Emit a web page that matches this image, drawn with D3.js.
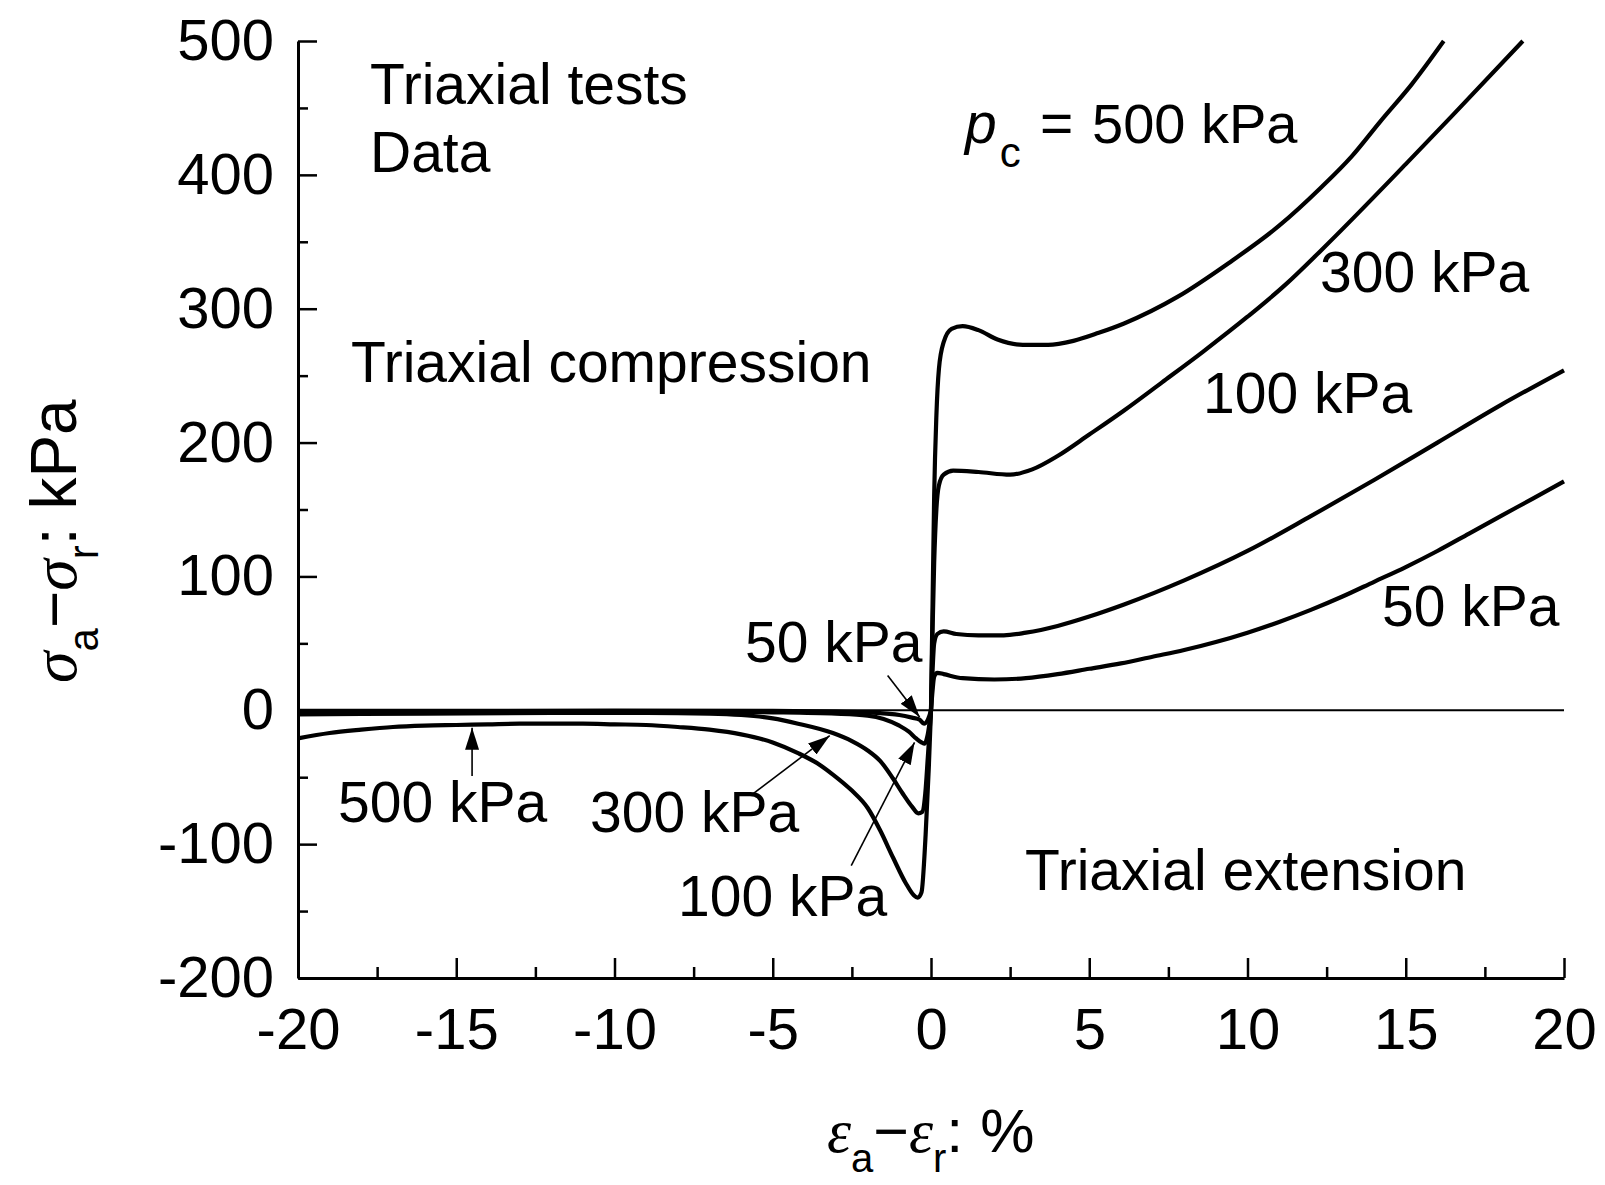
<!DOCTYPE html>
<html>
<head>
<meta charset="utf-8">
<script src="https://cdn.jsdelivr.net/npm/d3@7"></script>
<style>
  html, body { margin: 0; padding: 0; background: #fff; }
  svg { display: block; }
  text { font-family: "Liberation Sans", Arial, sans-serif; fill: #000; }
</style>
</head>
<body>
<svg id="chart" width="1605" height="1185"></svg>
<script>
// Axis ticks
const xTicks = [-20, -15, -10, -5, 0, 5, 10, 15, 20];
const xMinorTicks = [-17.5, -12.5, -7.5, -2.5, 2.5, 7.5, 12.5, 17.5];
const yTicks = [-200, -100, 0, 100, 200, 300, 400, 500];
const yMinorTicks = [-150, -50, 50, 150, 250, 350, 450];

// Triaxial compression curves: [axial - radial strain %, deviator stress kPa]
const comp500 = [[0,0],[0.05,80],[0.1,160],[0.17,220],[0.25,255],[0.4,275],[0.65,285],[1.0,287],[1.5,284],[2.1,277],[2.9,273],[3.7,273],[4.5,276],[5.3,282],[6.1,289],[7.8,309],[9.4,334],[11.0,362],[12.3,390],[13.3,414],[14.2,440],[15.2,468],[16.2,500]];
const comp300 = [[0,0],[0.05,60],[0.1,110],[0.17,150],[0.25,168],[0.4,176],[0.7,179],[1.5,178],[2.5,176],[3.2,180],[4.0,190],[5.0,206],[6.1,224],[7.3,245],[8.6,268],[10.0,294],[11.2,318],[12.3,343],[15.0,408],[16.5,445],[18.7,500]];
const comp100 = [[0,0],[0.05,30],[0.1,50],[0.2,57],[0.4,59],[0.8,57],[1.5,56],[2.3,56],[3.0,58],[4.0,63],[5.0,70],[6.1,79],[8.0,97],[10.0,119],[12.0,145],[14.0,172],[16.0,200],[18.0,228],[20.0,254]];
const comp50 = [[0,0],[0.05,15],[0.1,25],[0.2,28],[0.4,27],[1.0,24],[2.0,23],[3.0,24],[4.0,27],[5.0,31],[6.0,35],[7.0,40],[8.0,45],[9.0,51],[10.0,58],[11.0,66],[12.0,75],[13.0,85],[14.0,96],[15.0,107],[16.0,119],[17.0,132],[18.0,145],[19.0,158],[20.0,171]];

// Triaxial extension curves
const ext500 = [[-20,-21],[-19,-17],[-18,-14.5],[-17,-12.5],[-16,-11.5],[-15,-11],[-14,-10.5],[-13,-10],[-12,-10],[-11,-10],[-10,-10.5],[-9,-11],[-8,-12.5],[-7,-14.5],[-6,-18],[-5,-24],[-4.2,-32],[-3.5,-41],[-3.1,-48],[-2.5,-60],[-2.0,-73],[-1.6,-90],[-1.2,-110],[-0.8,-129],[-0.55,-138],[-0.42,-140],[-0.3,-136],[-0.17,-93],[-0.07,-43],[0,0]];
const ext300 = [[-20,-3],[-16,-2.5],[-12,-2],[-9,-2],[-7,-2.5],[-6,-3.5],[-5,-6],[-4.2,-10],[-3.1,-17],[-2.5,-23],[-2.0,-30],[-1.6,-38],[-1.2,-51],[-0.9,-62],[-0.6,-72],[-0.4,-77],[-0.28,-76],[-0.18,-62],[-0.1,-35],[0,0]];
const ext100 = [[-20,-1.5],[-14,-1],[-8,-1],[-5,-1.5],[-3,-2.5],[-2,-4],[-1.5,-6.5],[-1.0,-11.5],[-0.7,-16],[-0.47,-21],[-0.3,-24],[-0.2,-25],[-0.12,-20],[-0.05,-10],[0,0]];
const ext50 = [[-20,-0.5],[-10,-0.3],[-5,-0.5],[-3,-1],[-2,-1.5],[-1.4,-2.5],[-1.0,-3.5],[-0.6,-5.5],[-0.36,-7],[-0.22,-10],[-0.12,-8],[-0.05,-4],[0,0]];

const curves = [comp500, comp300, comp100, comp50, ext500, ext300, ext100, ext50];

const svg = d3.select("#chart");
const x = d3.scaleLinear().domain([-20, 20]).range([298, 1564]);
const y = d3.scaleLinear().domain([-200, 500]).range([978, 41]);

// Zero reference line
svg.append("line")
  .attr("x1", x(-20)).attr("x2", x(20))
  .attr("y1", y(0)).attr("y2", y(0))
  .attr("stroke", "#000").attr("stroke-width", 2);

// Data curves
const line = d3.line().x(d => x(d[0])).y(d => y(d[1])).curve(d3.curveMonotoneX);
svg.append("g").selectAll("path").data(curves).join("path")
  .attr("d", line)
  .attr("fill", "none")
  .attr("stroke", "#000")
  .attr("stroke-width", 4.2)
  .attr("stroke-linejoin", "round");

// Axes with inward ticks
function styleAxis(g) {
  g.select(".domain").attr("stroke-width", 3);
  g.selectAll(".tick line").attr("stroke-width", 2.5);
}
const xAxis = svg.append("g").attr("transform", `translate(0,${y(-200)})`)
  .call(d3.axisBottom(x).tickValues(xTicks).tickSizeInner(-20).tickSizeOuter(0).tickPadding(19)
        .tickFormat(d => String(d)));
styleAxis(xAxis);
xAxis.selectAll(".tick text").attr("font-size", 58).attr("dy", "0.9em")
  .style("font-family", '"Liberation Sans", Arial, sans-serif');

svg.append("g").attr("transform", `translate(0,${y(-200)})`)
  .call(d3.axisBottom(x).tickValues(xMinorTicks).tickSizeInner(-11).tickSizeOuter(0).tickFormat(""))
  .call(g => { g.select(".domain").remove(); g.selectAll(".tick line").attr("stroke-width", 2.5); });

const yAxis = svg.append("g").attr("transform", `translate(${x(-20)},0)`)
  .call(d3.axisLeft(y).tickValues(yTicks).tickSizeInner(-19).tickSizeOuter(0).tickPadding(24)
        .tickFormat(d => String(d)));
styleAxis(yAxis);
yAxis.selectAll(".tick text").attr("font-size", 58)
  .style("font-family", '"Liberation Sans", Arial, sans-serif');

svg.append("g").attr("transform", `translate(${x(-20)},0)`)
  .call(d3.axisLeft(y).tickValues(yMinorTicks).tickSizeInner(-10).tickSizeOuter(0).tickFormat(""))
  .call(g => { g.select(".domain").remove(); g.selectAll(".tick line").attr("stroke-width", 2.5); });

// Arrowhead marker
svg.append("defs").append("marker")
  .attr("id", "head")
  .attr("markerUnits", "userSpaceOnUse")
  .attr("viewBox", "0 0 22 14")
  .attr("refX", 22).attr("refY", 7)
  .attr("markerWidth", 22).attr("markerHeight", 14)
  .attr("orient", "auto")
  .append("path").attr("d", "M0,0 L22,7 L0,14 Z").attr("fill", "#000");

// Pointer lines from pressure labels to extension curves
const pointers = [
  [[-14.5, -49], [-14.5, -13]],
  [[-5.66, -63], [-3.2, -19]],
  [[-2.52, -116], [-0.52, -24]],
  [[-1.37, 26], [-0.36, -5]]
];
svg.append("g").selectAll("line").data(pointers).join("line")
  .attr("x1", d => x(d[0][0])).attr("y1", d => y(d[0][1]))
  .attr("x2", d => x(d[1][0])).attr("y2", d => y(d[1][1]))
  .attr("stroke", "#000").attr("stroke-width", 1.6)
  .attr("marker-end", "url(#head)");

// Text annotations
const labels = [
  ["Triaxial tests", 370, 104],
  ["Data", 370, 172],
  ["Triaxial compression", 351, 382],
  ["300 kPa", 1320, 292],
  ["100 kPa", 1203, 413],
  ["50 kPa", 1382, 626],
  ["50 kPa", 745, 662],
  ["500 kPa", 338, 822],
  ["300 kPa", 590, 832],
  ["Triaxial extension", 1025, 890],
  ["100 kPa", 678, 916]
];
svg.append("g").selectAll("text").data(labels).join("text")
  .attr("x", d => d[1]).attr("y", d => d[2])
  .attr("font-size", 57)
  .text(d => d[0]);

// Confining pressure label
const pc = svg.append("text").attr("x", 965).attr("y", 143).attr("font-size", 57);
pc.append("tspan").attr("font-style", "italic").text("p");
pc.append("tspan").attr("font-size", 42).attr("dy", 24).attr("dx", 3).text("c");
pc.append("tspan").attr("dy", -24).attr("x", 1040).text("=");
pc.append("tspan").attr("x", 1092).attr("font-size", 56).text("500 kPa");

// X-axis title
const serif = '"Liberation Serif", "Times New Roman", serif';
const xt = svg.append("text").attr("x", 827).attr("y", 1152).attr("font-size", 61);
xt.append("tspan").attr("font-family", serif).attr("font-style", "italic").text("ε");
xt.append("tspan").attr("font-size", 40).attr("dy", 20).text("a");
xt.append("tspan").attr("dy", -20).text("−");
xt.append("tspan").attr("font-family", serif).attr("font-style", "italic").text("ε");
xt.append("tspan").attr("font-size", 40).attr("dy", 20).text("r");
xt.append("tspan").attr("dy", -20).text(": %");

// Y-axis title
const yt = svg.append("text")
  .attr("transform", "translate(76,683) rotate(-90)")
  .attr("font-size", 64);
yt.append("tspan").attr("font-family", serif).attr("font-style", "italic").text("σ");
yt.append("tspan").attr("font-size", 42).attr("dy", 22).text("a");
yt.append("tspan").attr("dy", -22).text("−");
yt.append("tspan").attr("font-family", serif).attr("font-style", "italic").text("σ");
yt.append("tspan").attr("font-size", 42).attr("dy", 22).text("r");
yt.append("tspan").attr("dy", -22).text(": kPa");
</script>
</body>
</html>
